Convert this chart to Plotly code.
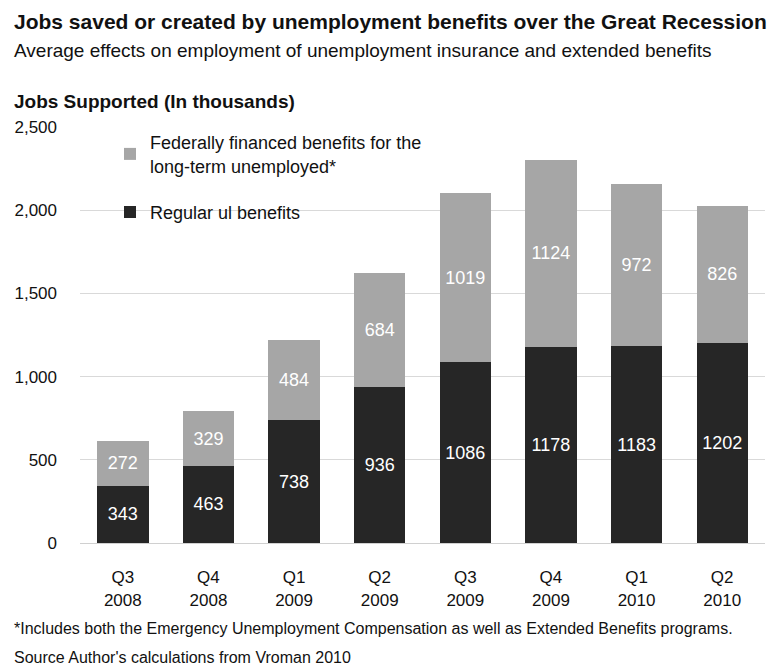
import plotly.graph_objects as go

quarters = ["Q3<br>2008", "Q4<br>2008", "Q1<br>2009", "Q2<br>2009",
            "Q3<br>2009", "Q4<br>2009", "Q1<br>2010", "Q2<br>2010"]
regular_ui = [343, 463, 738, 936, 1086, 1178, 1183, 1202]
federal_ext = [272, 329, 484, 684, 1019, 1124, 972, 826]
y_ticks = [0, 500, 1000, 1500, 2000, 2500]
y_tick_labels = ["0", "500", "1,000", "1,500", "2,000", "2,500"]

FONT = "Liberation Sans, Arial, sans-serif"
DARK = "#262626"
LIGHT = "#a6a6a6"
INK = "#111111"

W, H = 781, 667
ML, MR, MT, MB = 80, 16, 127, 124

fig = go.Figure()
fig.add_trace(go.Bar(
    x=quarters, y=regular_ui, name="Regular ul benefits",
    marker=dict(color=DARK, line=dict(width=0)),
    text=[str(v) for v in regular_ui], textposition="inside",
    insidetextanchor="middle", textangle=0,
    textfont=dict(color="white", size=18, family=FONT),
    legendgroup="a", legendrank=2,
))
fig.add_trace(go.Bar(
    x=quarters, y=federal_ext,
    name="Federally financed benefits for the<br>long-term unemployed*",
    marker=dict(color=LIGHT, line=dict(width=0)),
    text=[str(v) for v in federal_ext], textposition="inside",
    insidetextanchor="middle", textangle=0,
    textfont=dict(color="white", size=18, family=FONT),
    legendgroup="b", legendrank=1,
))


def paper_xy(px, py):
    """Convert page pixels to paper coordinates."""
    pw, ph = W - ML - MR, H - MT - MB
    return (px - ML) / pw, 1 - (py - MT) / ph


notes = [
    ("<b>Jobs saved or created by unemployment benefits over the Great Recession</b>", 12, 21, 21),
    ("Average effects on employment of unemployment insurance and extended benefits", 12, 50, 19),
    ("<b>Jobs Supported (In thousands)</b>", 12, 101, 19),
    ("*Includes both the Emergency Unemployment Compensation as well as Extended Benefits programs.", 12, 628, 16),
    ("Source Author's calculations from Vroman 2010", 12, 657, 16),
]
anns = []
for txt, px, py, sz in notes:
    ax, ay = paper_xy(px, py)
    anns.append(dict(text=txt, x=ax, y=ay, xref="paper", yref="paper",
                     xanchor="left", yanchor="middle", showarrow=False,
                     font=dict(size=sz, family=FONT, color=INK)))

lx, ly = paper_xy(110, 124)

fig.update_layout(
    width=W, height=H,
    barmode="stack", bargap=0.4,
    paper_bgcolor="white", plot_bgcolor="white",
    font=dict(family=FONT, size=17, color=INK),
    margin=dict(l=ML, r=MR, t=MT, b=MB),
    showlegend=True,
    legend=dict(
        x=lx, y=ly, xanchor="left", yanchor="top",
        bgcolor="rgba(0,0,0,0)", font=dict(size=18, family=FONT, color=INK),
        traceorder="grouped", tracegroupgap=20, itemwidth=30,
    ),
    uniformtext=dict(minsize=18, mode="show"),
    xaxis=dict(showline=True, linecolor="#d0d0d0", linewidth=1,
               ticks="", ticklabelstandoff=19,
               tickfont=dict(size=17, family=FONT, color=INK)),
    yaxis=dict(range=[0, 2500], tickvals=y_ticks, ticktext=y_tick_labels,
               showgrid=True, gridcolor="#d9d9d9", gridwidth=1,
               zeroline=False, ticks="", ticklabelstandoff=22,
               tickfont=dict(size=17, family=FONT, color=INK)),
    annotations=anns,
)

fig.write_html("out.html")
